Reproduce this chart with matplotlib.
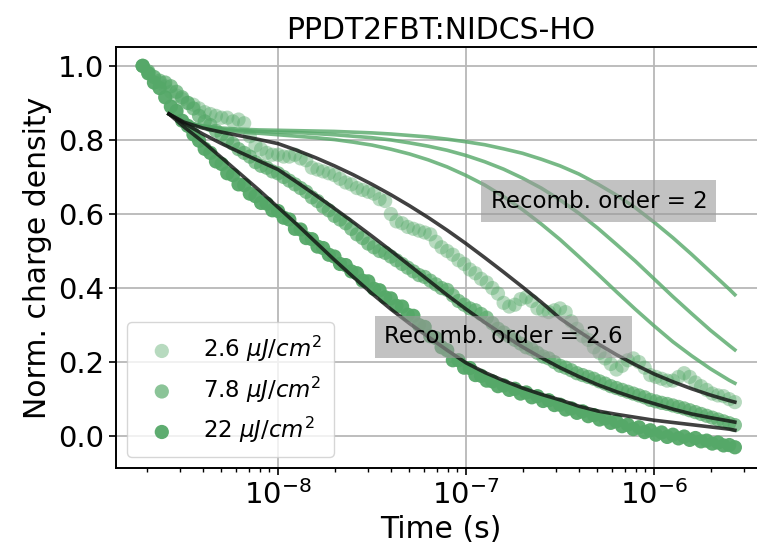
import numpy as np
import matplotlib
matplotlib.use('Agg')
import matplotlib.pyplot as plt

# measured transients, log10(time / s) for every point
log_t = [-8.72, -8.69, -8.66, -8.63, -8.60, -8.57, -8.54, -8.51, -8.48, -8.45,
         -8.42, -8.39, -8.36, -8.33, -8.30, -8.27, -8.24, -8.21, -8.18, -8.15,
         -8.12, -8.09, -8.06, -8.03, -8.00, -7.97, -7.94, -7.91, -7.88, -7.85,
         -7.82, -7.79, -7.76, -7.73, -7.70, -7.67, -7.64, -7.61, -7.58, -7.55,
         -7.52, -7.49, -7.46, -7.43, -7.40, -7.37, -7.34, -7.31, -7.28, -7.25,
         -7.22, -7.19, -7.16, -7.13, -7.10, -7.07, -7.04, -7.01, -6.98, -6.95,
         -6.92, -6.89, -6.86, -6.83, -6.80, -6.77, -6.74, -6.71, -6.68, -6.65,
         -6.62, -6.59, -6.56, -6.53, -6.50, -6.47, -6.44, -6.41, -6.38, -6.35,
         -6.32, -6.29, -6.26, -6.23, -6.20, -6.17, -6.14, -6.11, -6.08, -6.05,
         -6.02, -5.99, -5.96, -5.93, -5.90, -5.87, -5.84, -5.81, -5.78, -5.75,
         -5.72, -5.69, -5.66, -5.63, -5.60, -5.57]

n_2p6 = [1.0, 0.98, 0.97, 0.955, 0.945, 0.93, 0.92, 0.91, 0.90, 0.895,
         0.885, 0.875, 0.87, 0.865, 0.86, 0.86, 0.85, 0.855, 0.845, 0.81,
         0.785, 0.775, 0.765, 0.76, 0.76, 0.755, 0.755, 0.76, 0.75, 0.745,
         0.725, 0.72, 0.715, 0.71, 0.705, 0.695, 0.685, 0.68, 0.67, 0.665,
         0.66, 0.655, 0.64, 0.635, 0.60, 0.58, 0.575, 0.565, 0.56, 0.555,
         0.55, 0.545, 0.525, 0.51, 0.50, 0.49, 0.475, 0.465, 0.45, 0.44,
         0.425, 0.415, 0.40, 0.385, 0.36, 0.35, 0.355, 0.37, 0.375, 0.365,
         0.345, 0.34, 0.335, 0.34, 0.345, 0.335, 0.31, 0.29, 0.27, 0.26,
         0.24, 0.225, 0.21, 0.195, 0.18, 0.19, 0.205, 0.21, 0.20, 0.185,
         0.165, 0.16, 0.155, 0.15, 0.15, 0.16, 0.17, 0.16, 0.145, 0.135,
         0.125, 0.115, 0.11, 0.108, 0.10, 0.092]

n_7p8 = [1.0, 0.985, 0.97, 0.96, 0.955, 0.945, 0.93, 0.915, 0.90, 0.885,
         0.865, 0.85, 0.84, 0.825, 0.815, 0.80, 0.79, 0.775, 0.765, 0.755,
         0.74, 0.73, 0.725, 0.715, 0.71, 0.70, 0.69, 0.68, 0.67, 0.66,
         0.645, 0.635, 0.62, 0.61, 0.595, 0.585, 0.575, 0.56, 0.545, 0.535,
         0.52, 0.51, 0.50, 0.495, 0.485, 0.475, 0.465, 0.455, 0.445, 0.435,
         0.43, 0.42, 0.41, 0.40, 0.395, 0.38, 0.365, 0.355, 0.345, 0.34,
         0.33, 0.32, 0.305, 0.29, 0.28, 0.27, 0.26, 0.25, 0.24, 0.235,
         0.225, 0.215, 0.21, 0.20, 0.19, 0.185, 0.178, 0.17, 0.165, 0.16,
         0.155, 0.148, 0.142, 0.135, 0.13, 0.125, 0.12, 0.115, 0.11, 0.105,
         0.098, 0.094, 0.09, 0.087, 0.083, 0.079, 0.075, 0.07, 0.065, 0.06,
         0.055, 0.05, 0.045, 0.04, 0.035, 0.03]

n_22 = [1.0, 0.98, 0.955, 0.94, 0.915, 0.89, 0.878, 0.852, 0.838, 0.815,
        0.798, 0.776, 0.765, 0.742, 0.735, 0.71, 0.705, 0.68, 0.678, 0.655,
        0.648, 0.63, 0.628, 0.61, 0.608, 0.59, 0.585, 0.56, 0.558, 0.535,
        0.532, 0.512, 0.508, 0.49, 0.485, 0.465, 0.462, 0.445, 0.44, 0.42,
        0.418, 0.398, 0.394, 0.375, 0.372, 0.352, 0.35, 0.328, 0.325, 0.30,
        0.295, 0.27, 0.265, 0.24, 0.232, 0.205, 0.205, 0.185, 0.184, 0.165,
        0.163, 0.15, 0.148, 0.135, 0.137, 0.125, 0.128, 0.115, 0.118, 0.105,
        0.108, 0.095, 0.097, 0.084, 0.085, 0.072, 0.075, 0.063, 0.067, 0.054,
        0.057, 0.045, 0.048, 0.036, 0.04, 0.027, 0.031, 0.019, 0.024, 0.011,
        0.016, 0.004, 0.01, -0.002, 0.004, -0.006, -0.001, -0.01, -0.005, -0.014,
        -0.012, -0.02, -0.017, -0.025, -0.024, -0.03]

# fitted curves
fit_log_t = [-8.58, -8.5, -8.4, -8.3, -8.2, -8.1, -8.0, -7.9, -7.8, -7.7,
             -7.6, -7.5, -7.4, -7.3, -7.2, -7.1, -7.0, -6.9, -6.8, -6.7,
             -6.6, -6.5, -6.4, -6.3, -6.2, -6.1, -6.0, -5.9, -5.8, -5.7,
             -5.6, -5.57]

order2_2p6 = [0.87, 0.85, 0.838, 0.832, 0.829, 0.827, 0.826, 0.825, 0.824, 0.823,
              0.821, 0.819, 0.816, 0.812, 0.808, 0.802, 0.795, 0.787, 0.776, 0.764,
              0.748, 0.730, 0.708, 0.681, 0.651, 0.617, 0.578, 0.536, 0.491, 0.444,
              0.397, 0.382]
order2_7p8 = [0.87, 0.85, 0.836, 0.829, 0.825, 0.823, 0.821, 0.820, 0.817, 0.814,
              0.810, 0.806, 0.800, 0.792, 0.783, 0.772, 0.758, 0.741, 0.721, 0.697,
              0.670, 0.638, 0.602, 0.562, 0.518, 0.473, 0.425, 0.377, 0.331, 0.286,
              0.245, 0.233]
order2_22 = [0.87, 0.85, 0.834, 0.826, 0.821, 0.818, 0.814, 0.810, 0.806, 0.801,
             0.794, 0.786, 0.775, 0.762, 0.746, 0.727, 0.704, 0.678, 0.647, 0.612,
             0.573, 0.531, 0.485, 0.438, 0.390, 0.343, 0.298, 0.255, 0.217, 0.182,
             0.151, 0.143]

order26_2p6 = [0.87, 0.848, 0.832, 0.821, 0.811, 0.801, 0.79, 0.772, 0.752, 0.73,
               0.706, 0.68, 0.652, 0.622, 0.59, 0.556, 0.52, 0.482, 0.443, 0.403,
               0.362, 0.318, 0.283, 0.25, 0.22, 0.193, 0.168, 0.147, 0.128, 0.111,
               0.096, 0.092]
order26_7p8 = [0.87, 0.845, 0.816, 0.79, 0.766, 0.743, 0.72, 0.686, 0.651, 0.615,
               0.578, 0.54, 0.501, 0.461, 0.421, 0.381, 0.343, 0.307, 0.273, 0.241,
               0.212, 0.185, 0.161, 0.139, 0.12, 0.103, 0.088, 0.073, 0.06, 0.05,
               0.041, 0.038]
order26_22 = [0.87, 0.835, 0.795, 0.752, 0.708, 0.664, 0.618, 0.572, 0.524, 0.476,
              0.43, 0.385, 0.343, 0.304, 0.268, 0.232, 0.198, 0.172, 0.15, 0.13,
              0.113, 0.098, 0.081, 0.068, 0.059, 0.051, 0.043, 0.037, 0.031, 0.025,
              0.019, 0.016]

labels = [r'2.6 $\mu J/cm^2$', r'7.8 $\mu J/cm^2$', r'22 $\mu J/cm^2$']
green = '#55a868'

t = np.power(10.0, log_t)
t_fit = np.power(10.0, fit_log_t)

fig = plt.figure(figsize=(7.57, 5.54), dpi=100)
ax = fig.add_axes([0.1532, 0.1552, 0.8573, 0.760])

ax.grid(True, color='#b8b8b8', linewidth=1.3, zorder=0)
ax.set_axisbelow(True)

for y, a, lab in zip([n_2p6, n_7p8, n_22], [0.42, 0.68, 0.95], labels):
    ax.scatter(t, y, s=105, color=green, alpha=a, edgecolors='none', label=lab, zorder=2)

for y in [order2_2p6, order2_7p8, order2_22]:
    ax.plot(t_fit, y, color=green, alpha=0.8, lw=2.6, zorder=3)
for y in [order26_2p6, order26_7p8, order26_22]:
    ax.plot(t_fit, y, color='#111111', alpha=0.8, lw=2.6, zorder=3)

box = dict(boxstyle='square,pad=0.4', facecolor='#9a9a9a', alpha=0.6, edgecolor='none')
ax.text(10**-6.293, 0.635, 'Recomb. order = 2', fontsize=16.5, ha='center', va='center',
        bbox=box, zorder=4)
ax.text(10**-6.803, 0.268, 'Recomb. order = 2.6', fontsize=16.5, ha='center', va='center',
        bbox=box, zorder=4)

ax.set_xscale('log')
ax.set_xlim(10**-8.862, 10**-5.41)
ax.set_ylim(-0.086, 1.051)
ax.set_yticks([0.0, 0.2, 0.4, 0.6, 0.8, 1.0])
ax.tick_params(axis='both', which='major', labelsize=21, length=5, width=1.2)
ax.tick_params(axis='x', which='minor', length=3, width=1.0)
for sp in ax.spines.values():
    sp.set_linewidth(1.4)

ax.set_xlabel('Time (s)', fontsize=21.5)
ax.set_ylabel('Norm. charge density', fontsize=21.5)
ax.set_title('PPDT2FBT:NIDCS-HO', fontsize=21.5)
ax.legend(loc='lower left', fontsize=16.5, borderpad=0.5, labelspacing=0.45,
          handletextpad=0.8)

fig.savefig('out.png', dpi=100)
